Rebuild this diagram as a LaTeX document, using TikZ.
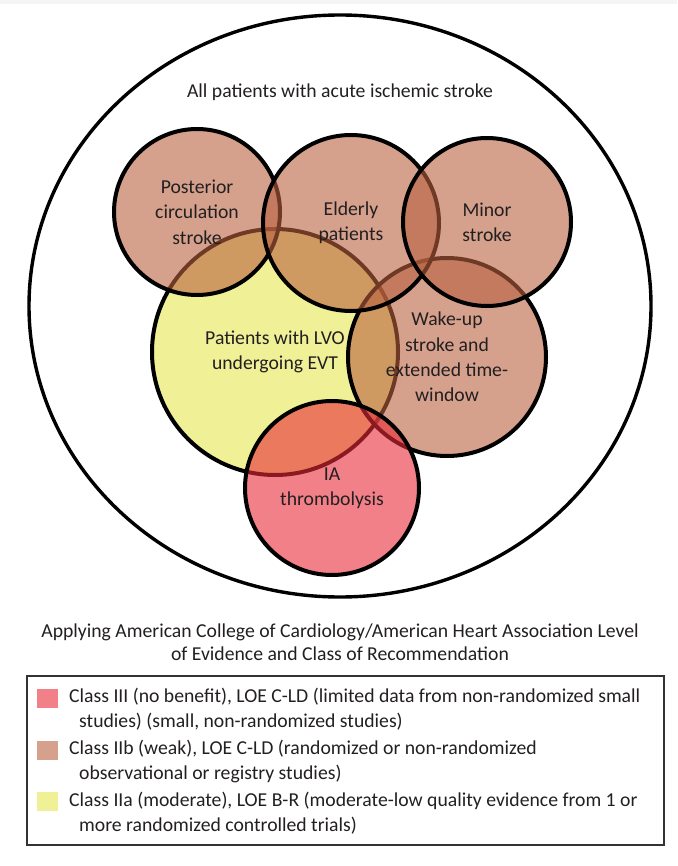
\documentclass[tikz,border=0pt]{standalone}
\usepackage{fontspec}
\setmainfont{Carlito}
\usetikzlibrary{shapes.geometric}
\definecolor{brownF}{RGB}{185,97,63}
\definecolor{pinkF}{RGB}{233,43,57}
\definecolor{yellowF}{RGB}{240,240,150}
\definecolor{brownL}{RGB}{213,160,140}
\definecolor{pinkL}{RGB}{242,128,136}
\definecolor{txt}{RGB}{35,31,32}
\tikzset{
  venn/.style={circle, draw=black, line width=4pt, inner sep=0pt, text opacity=1,
    text=txt, align=center, font=\fontsize{19.7}{25.3}\selectfont},
  browncirc/.style={venn, fill=brownF, fill opacity=0.6},
  pinkcirc/.style={venn, fill=pinkF, fill opacity=0.6},
  yellowcirc/.style={venn, fill=yellowF},
  legsq/.style={minimum width=21pt, minimum height=19pt, inner sep=0pt},
  legtxt/.style={anchor=west, inner sep=0pt, text=txt, font=\fontsize{19.7}{22}\selectfont},
}
\begin{document}
\begin{tikzpicture}[x=1pt,y=-1pt]
\useasboundingbox (0,0) rectangle (677,866);
\fill[black!4] (0,0) rectangle (677,4);
% outer ellipse
\node[draw=black, line width=3.4pt, ellipse, minimum width=622pt, minimum height=582pt, inner sep=0pt] (all) at (340,306) {};
\node[text=txt, font=\fontsize{19.7}{22}\selectfont] (alltxt) at (340,92) {All patients with acute ischemic stroke};
% circles
\node[yellowcirc, minimum size=246pt] (lvo) at (275,352) {Patients with LVO\\undergoing EVT};
\node[browncirc, minimum size=198pt] (wake) at (447,357) {Wake-up\\stroke and\\extended time-\\window};
\node[pinkcirc, minimum size=174pt] (ia) at (332,488) {IA\\thrombolysis};
\node[browncirc, minimum size=166pt] (post) at (197,212) {Posterior\\circulation\\stroke};
\node[browncirc, minimum size=176pt] (eld) at (351,223) {Elderly\\patients};
\node[browncirc, minimum size=168pt] (minor) at (487,222) {Minor\\stroke};
% title
\node[text=txt, align=center, font=\fontsize{19.7}{23}\selectfont] (title) at (340,642) {Applying American College of Cardiology/American Heart Association Level\\of Evidence and Class of Recommendation};
% legend
\node[draw=black!80, line width=1.2pt, minimum width=637pt, minimum height=169pt, inner sep=0pt] (legend) at (345.5,760.5) {};
\node[legsq, fill=pinkL] (sq1) at (47.5,698.5) {};
\node[legsq, fill=brownL] (sq2) at (47.5,750.5) {};
\node[legsq, fill=yellowF] (sq3) at (47.5,801.5) {};
\node[legtxt] (l1) at (69,697) {Class III (no benefit), LOE C-LD (limited data from non-randomized small};
\node[legtxt] (l2) at (79,722) {studies) (small, non-randomized studies)};
\node[legtxt] (l3) at (69,749) {Class IIb (weak), LOE C-LD (randomized or non-randomized};
\node[legtxt] (l4) at (79,774) {observational or registry studies)};
\node[legtxt] (l5) at (69,801) {Class IIa (moderate), LOE B-R (moderate-low quality evidence from 1 or};
\node[legtxt] (l6) at (79,826) {more randomized controlled trials)};
\end{tikzpicture}
\end{document}
